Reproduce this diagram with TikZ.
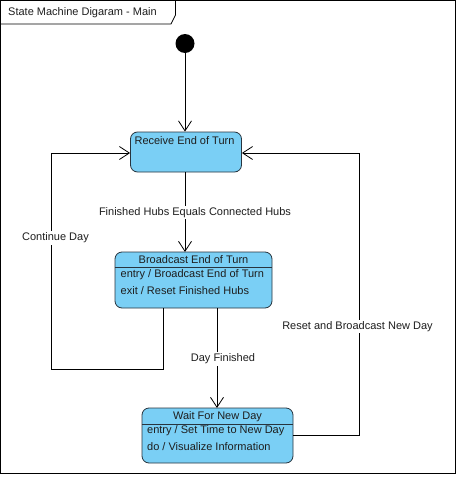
\documentclass[tikz,border=0pt]{standalone}
\usepackage{fontspec}
\setmainfont{Liberation Sans}
\usetikzlibrary{arrows.meta}
\definecolor{stfill}{RGB}{122,207,245}
\definecolor{stdraw}{RGB}{40,52,62}
\definecolor{txt}{RGB}{30,30,30}
\begin{document}
\begin{tikzpicture}[x=1pt,y=-1pt,
  every node/.style={font=\fontsize{11}{13}\selectfont, text=txt},
  statebox/.style={draw=stdraw, fill=stfill, rounded corners=7pt, line width=0.8pt, inner sep=0pt},
  trans/.style={draw=black, line width=0.8pt, -{Straight Barb[length=10pt,width=13pt,line width=0.8pt]}},
  lbl/.style={fill=white, inner sep=1.5pt},
  txtl/.style={anchor=west, inner sep=0pt}]
\useasboundingbox (0,0) rectangle (457,477);
% frame
\draw[line width=0.8pt] (0.5,0.5) rectangle (455.5,473.5);
\draw[line width=0.8pt] (175.5,0.5) -- (175.5,15) -- (171,24) -- (0.5,24);
\node[anchor=west, inner sep=0pt] (title) at (8,13) {State Machine Digaram - Main};
% initial
\node[circle, fill=black, minimum size=19pt, inner sep=0pt] (init) at (185,43.5) {};
% states
\node[statebox, minimum width=111pt, minimum height=40pt] (recv) at (186,152) {};
\node[anchor=center, inner sep=0pt] (recvt) at (184.5,140.5) {Receive End of Turn};
\node[statebox, minimum width=157pt, minimum height=56pt] (bcast) at (193.5,280) {};
\draw[draw=stdraw, line width=0.8pt] (bcast.west |- 0,267) -- (bcast.east |- 0,267);
\node[inner sep=0pt] (bcastt) at (193.5,259.5) {Broadcast End of Turn};
\node[txtl] (bcast1) at (120.5,274.5) {entry / Broadcast End of Turn};
\node[txtl] (bcast2) at (120.5,290.5) {exit / Reset Finished Hubs};
\node[statebox, minimum width=151pt, minimum height=55pt] (wait) at (217.5,435.5) {};
\draw[draw=stdraw, line width=0.8pt] (wait.west |- 0,424) -- (wait.east |- 0,424);
\node[inner sep=0pt] (waitt) at (217.5,416.5) {Wait For New Day};
\node[txtl] (wait1) at (147,431) {entry / Set Time to New Day};
\node[txtl] (wait2) at (147,447) {do / Visualize Information};
% transitions
\draw[trans] (init) -- (init |- recv.north);
\coordinate (a1) at (185,172);
\coordinate (a2) at (185,252);
\draw[trans] (a1) -- node[lbl, pos=0.5, xshift=10pt, yshift=-0.5pt] {Finished Hubs Equals Connected Hubs} (a2);
\coordinate (b1) at (217,308);
\coordinate (b2) at (217,408);
\draw[trans] (b1) -- node[lbl, pos=0.5, xshift=6pt, yshift=-1pt] {Day Finished} (b2);
\coordinate (c1) at (163,308);
\coordinate (c2) at (163,369);
\coordinate (c3) at (51,369);
\coordinate (c4) at (51,153);
\draw[trans] (c1) -- (c2) -- (c3) -- node[lbl, pos=0.606, xshift=4.5pt] {Continue Day} (c4) -- (recv.west |- c4);
\coordinate (d1) at (359,435);
\coordinate (d2) at (359,153);
\draw[trans] (wait.east |- d1) -- (d1) -- node[lbl, pos=0.385, xshift=-1.5pt] {Reset and Broadcast New Day} (d2) -- (recv.east |- d2);
\end{tikzpicture}
\end{document}
